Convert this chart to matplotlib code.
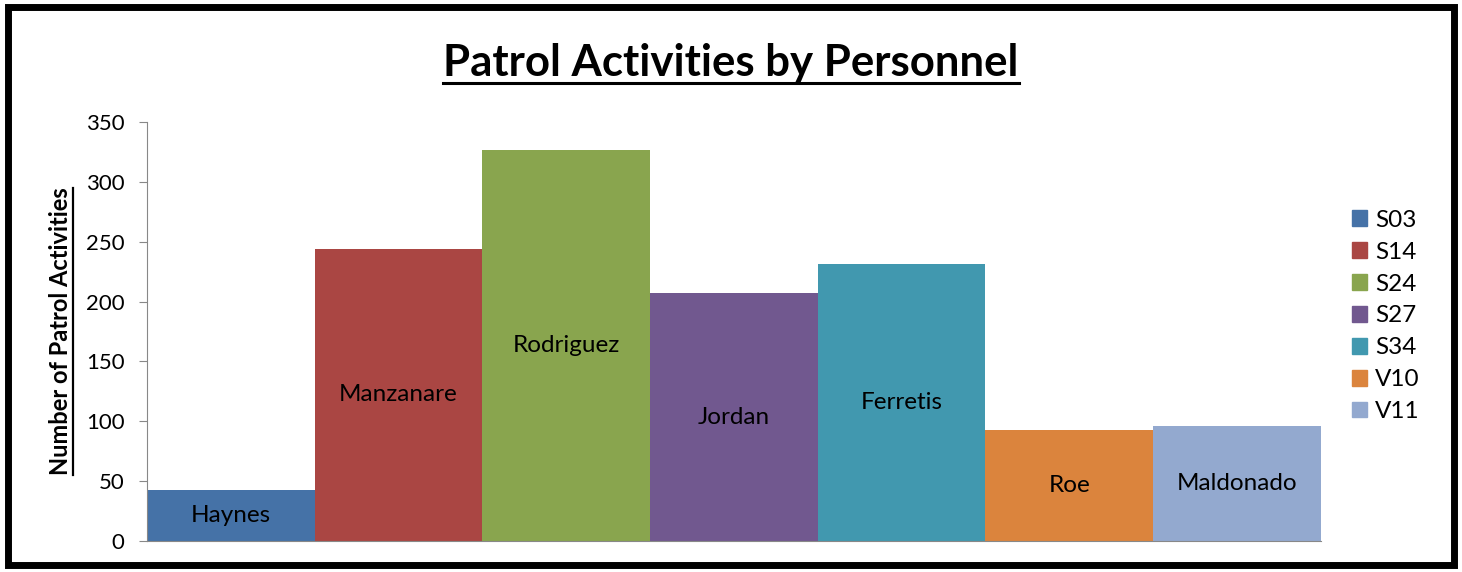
import matplotlib.pyplot as plt
from matplotlib.lines import Line2D
from matplotlib.patches import Rectangle

plt.rcParams['font.family'] = ['Lato', 'DejaVu Sans']

names = ["Haynes", "Manzanare", "Rodriguez", "Jordan", "Ferretis", "Roe", "Maldonado"]
codes = ["S03", "S14", "S24", "S27", "S34", "V10", "V11"]
counts = [43, 244, 327, 207, 231, 93, 96]
colors = ["#4572A7", "#AA4643", "#89A54E", "#71588F", "#4198AF", "#DB843D", "#93A9CF"]
yticks = [0, 50, 100, 150, 200, 250, 300, 350]


def underline(fig, txt, pad_px, lw):
    # matplotlib has no underline style, so draw a line under the text bbox
    fig.canvas.draw()
    bb = txt.get_window_extent().transformed(fig.transFigure.inverted())
    if txt.get_rotation() == 90:
        x = bb.x1 + pad_px / fig.bbox.width
        fig.add_artist(Line2D([x, x], [bb.y0, bb.y1], color="black", lw=lw,
                              transform=fig.transFigure))
    else:
        y = bb.y0 - pad_px / fig.bbox.height
        fig.add_artist(Line2D([bb.x0, bb.x1], [y, y], color="black", lw=lw,
                              transform=fig.transFigure))


fig = plt.figure(figsize=(14.62, 5.72), dpi=100)
ax = fig.add_axes([0.1005, 0.0542, 0.803, 0.7325])

x = list(range(len(names)))
ax.bar(x, counts, width=1.0, color=colors)
for xi, v, name in zip(x, counts, names):
    ax.text(xi, v / 2, name, ha="center", va="center", fontsize=17.5, color="black")

ax.set_xlim(-0.5, len(names) - 0.5)
ax.set_ylim(0, 350)
ax.set_yticks(yticks)
ax.set_xticks([])
ax.tick_params(axis="y", labelsize=16, length=6, color="#888888", pad=10)
for side in ["top", "right"]:
    ax.spines[side].set_visible(False)
ax.spines["left"].set_color("#888888")
ax.spines["bottom"].set_color("#888888")

ylab = ax.set_ylabel("Number of Patrol Activities", fontsize=17, fontweight="bold", labelpad=10)

handles = [Rectangle((0, 0), 1, 1, color=c) for c in colors]
ax.legend(handles, codes, loc="center left", bbox_to_anchor=(1.008, 0.537), frameon=False,
          fontsize=17.5, handlelength=0.6, handleheight=0.6, handletextpad=0.35,
          labelspacing=0.45)

title = fig.text(0.5, 0.868, "Patrol Activities by Personnel", ha="center", va="baseline",
                 fontsize=31.5, fontweight="bold")

# figure border
fig.add_artist(Rectangle((0.0055, 0.0115), 0.989, 0.977, fill=False, lw=5,
                         edgecolor="black", transform=fig.transFigure))

underline(fig, title, 0, 2.2)
underline(fig, ylab, 1, 1.6)

fig.savefig("out.png", dpi=100)
